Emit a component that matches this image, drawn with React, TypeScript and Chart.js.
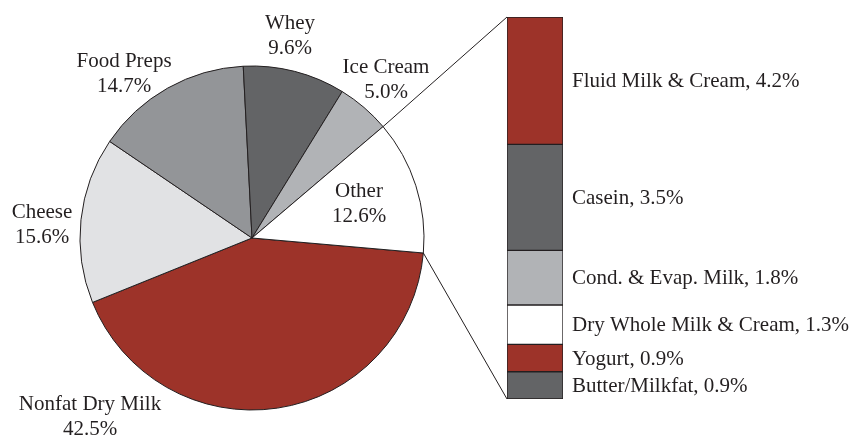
import React, { useEffect, useRef } from "react";
import { Chart, registerables } from "chart.js";

Chart.register(...registerables);

// Pie data (clockwise, starting just below 3 o'clock)
const pieLabels = ["Nonfat Dry Milk", "Cheese", "Food Preps", "Whey", "Ice Cream", "Other"];
const pieValues = [42.5, 15.6, 14.7, 9.6, 5.0, 12.6];
const pieColors = ["#9d3329", "#e1e2e4", "#939598", "#636466", "#b1b3b6", "#ffffff"];

// Breakdown of "Other"
const barLabels = [
  "Fluid Milk & Cream",
  "Casein",
  "Cond. & Evap. Milk",
  "Dry Whole Milk & Cream",
  "Yogurt",
  "Butter/Milkfat",
];
const barValues = [4.2, 3.5, 1.8, 1.3, 0.9, 0.9];
const barColors = ["#9d3329", "#636466", "#b1b3b6", "#ffffff", "#9d3329", "#636466"];

// Label placement for pie labels: offset from pie centre (x, first baseline)
const pieLabelOffsets: [number, number][] = [
  [-162, 172],
  [-210, -20],
  [-128, -171],
  [38, -209],
  [134, -165],
  [107, -41],
];

const FONT = "21px 'Liberation Serif', 'Times New Roman', serif";
const INK = "#231f20";
const fmt = (v: number) => v.toFixed(1) + "%";

export default function App() {
  const pieRef = useRef<HTMLCanvasElement | null>(null);
  const barRef = useRef<HTMLCanvasElement | null>(null);

  useEffect(() => {
    if (!pieRef.current || !barRef.current) return;

    const pieLabelPlugin = {
      id: "pieLabels",
      afterDraw(chart: any) {
        const ctx = chart.ctx;
        const arc = chart.getDatasetMeta(0).data[0];
        if (!arc) return;
        const cx = arc.x;
        const cy = arc.y;
        ctx.save();
        ctx.font = FONT;
        ctx.fillStyle = INK;
        ctx.textAlign = "center";
        ctx.textBaseline = "alphabetic";
        pieLabels.forEach((lab, i) => {
          const [dx, dy] = pieLabelOffsets[i];
          ctx.fillText(lab, cx + dx, cy + dy);
          ctx.fillText(fmt(pieValues[i]), cx + dx, cy + dy + 25);
        });
        ctx.restore();
      },
    };

    const pie = new Chart(pieRef.current, {
      type: "pie",
      data: {
        labels: pieLabels,
        datasets: [
          {
            data: pieValues,
            backgroundColor: pieColors,
            borderColor: INK,
            borderWidth: 1,
          },
        ],
      },
      options: {
        responsive: false,
        animation: false,
        events: [],
        rotation: 95,
        radius: 172,
        layout: { padding: { left: 80, right: 431, top: 66, bottom: 27 } },
        plugins: { legend: { display: false }, tooltip: { enabled: false } },
      },
      plugins: [pieLabelPlugin],
    } as any);

    const total = barValues.reduce((a, b) => a + b, 0);

    const barPlugin = {
      id: "barExtras",
      afterDatasetsDraw(chart: any) {
        const ctx = chart.ctx;
        ctx.save();
        ctx.font = FONT;
        ctx.fillStyle = INK;
        ctx.textAlign = "left";
        ctx.textBaseline = "middle";
        barLabels.forEach((lab, i) => {
          const el = chart.getDatasetMeta(i).data[0];
          if (!el) return;
          const yMid = (el.y + el.base) / 2;
          const xr = el.x + el.width / 2 + 9;
          ctx.fillText(`${lab}, ${fmt(barValues[i])}`, xr, yMid + 1);
        });
        // connectors from the "Other" slice to the bar
        const first = chart.getDatasetMeta(0).data[0];
        const otherArc = pie.getDatasetMeta(0).data[5] as any;
        if (first && otherArc) {
          const { x, y, startAngle, endAngle, outerRadius } = otherArc.getProps(
            ["x", "y", "startAngle", "endAngle", "outerRadius"],
            true
          );
          const left = first.x - first.width / 2;
          const yTop = chart.scales.y.getPixelForValue(0);
          const yBot = chart.scales.y.getPixelForValue(total);
          ctx.strokeStyle = INK;
          ctx.lineWidth = 1;
          ctx.beginPath();
          ctx.moveTo(x + outerRadius * Math.cos(startAngle), y + outerRadius * Math.sin(startAngle));
          ctx.lineTo(left, yTop);
          ctx.moveTo(x + outerRadius * Math.cos(endAngle), y + outerRadius * Math.sin(endAngle));
          ctx.lineTo(left, yBot);
          ctx.stroke();
        }
        ctx.restore();
      },
    };

    const bar = new Chart(barRef.current, {
      type: "bar",
      data: {
        labels: ["Other"],
        datasets: barLabels.map((lab, i) => ({
          label: lab,
          data: [barValues[i]],
          backgroundColor: barColors[i],
          borderColor: INK,
          borderWidth: 1,
          borderSkipped: false,
          barPercentage: 1,
          categoryPercentage: 1,
          stack: "s",
        })),
      },
      options: {
        responsive: false,
        animation: false,
        events: [],
        layout: { padding: { left: 507, right: 292, top: 17, bottom: 38 } },
        scales: {
          x: { display: false, stacked: true },
          y: { display: false, stacked: true, reverse: true, min: 0, max: total },
        },
        plugins: { legend: { display: false }, tooltip: { enabled: false } },
      },
      plugins: [barPlugin],
    } as any);

    return () => {
      bar.destroy();
      pie.destroy();
    };
  }, []);

  const canvasStyle: React.CSSProperties = {
    position: "absolute",
    left: 0,
    top: 0,
    width: 855,
    height: 437,
  };

  return (
    <div
      style={{
        position: "fixed",
        left: 0,
        top: 0,
        width: 855,
        height: 437,
        background: "#ffffff",
      }}
    >
      <canvas ref={pieRef} width={855} height={437} style={canvasStyle} />
      <canvas ref={barRef} width={855} height={437} style={canvasStyle} />
    </div>
  );
}
